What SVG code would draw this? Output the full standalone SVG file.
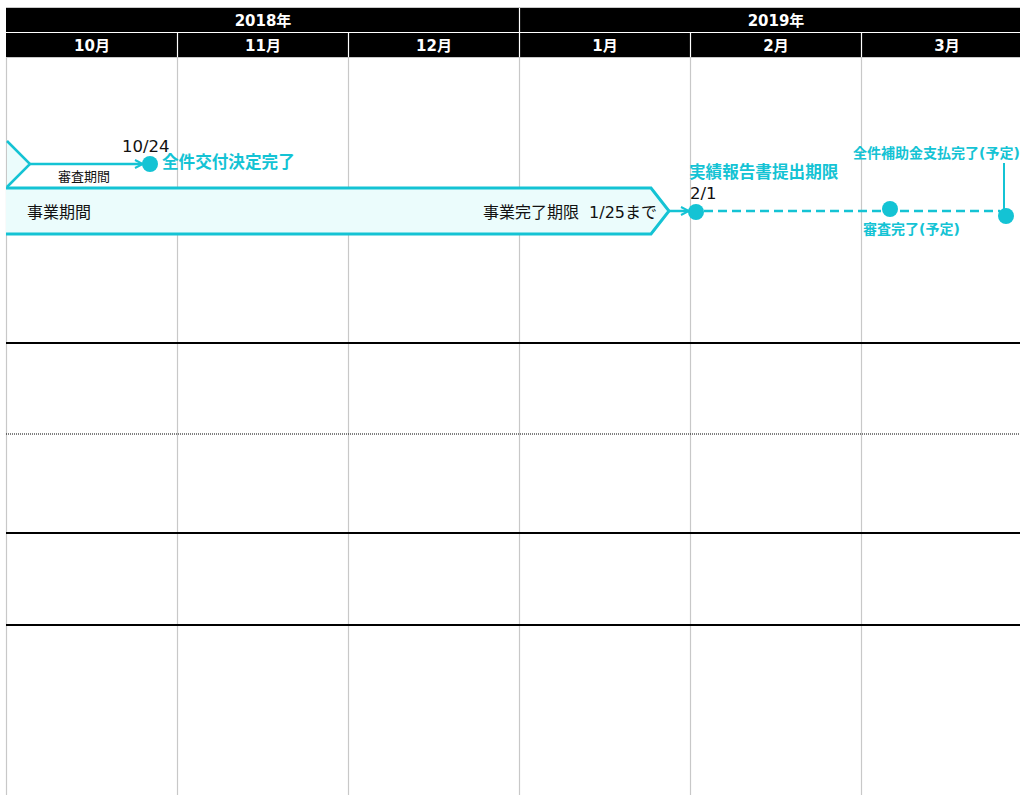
<svg xmlns="http://www.w3.org/2000/svg" width="1020" height="795" viewBox="0 0 1020 795">
<style>
.hdr{fill:#000}
.htxt{font-family:"DejaVu Sans","Noto Sans CJK JP",sans-serif;font-size:15px;font-weight:bold;fill:#fff;text-anchor:middle}
.vsep{stroke:#fff;stroke-width:1.2}
.grid{stroke:#c8c8c8;stroke-width:1.2}
.row{stroke:#000;stroke-width:2}
.cy{stroke:#14c3d4;fill:none}
.dot{fill:#14c3d4}
.t{font-family:"DejaVu Sans","Noto Sans CJK JP",sans-serif;fill:#111}
.tc{font-family:"DejaVu Sans","Noto Sans CJK JP",sans-serif;fill:#14c3d4;font-weight:bold}
</style>
<defs>
<marker id="arr" viewBox="0 0 10 10" refX="9" refY="5" markerWidth="10" markerHeight="10" markerUnits="userSpaceOnUse" orient="auto">
<path d="M1,1 L9,5 L1,9" fill="none" stroke="#14c3d4" stroke-width="2"/>
</marker>
</defs>
<rect width="1020" height="795" fill="#fff"/>
<g id="grid">
<line x1="6" y1="7.5" x2="1020" y2="7.5" stroke="#c8c8c8"/>
<rect class="hdr" x="6" y="8" width="1014" height="49"/>
<line class="vsep" x1="6" y1="32.5" x2="1020" y2="32.5"/>
<line class="vsep" x1="519.5" y1="8" x2="519.5" y2="57"/>
<line class="vsep" x1="177.5" y1="33" x2="177.5" y2="57"/>
<line class="vsep" x1="348.5" y1="33" x2="348.5" y2="57"/>
<line class="vsep" x1="690.5" y1="33" x2="690.5" y2="57"/>
<line class="vsep" x1="861.5" y1="33" x2="861.5" y2="57"/>
<line x1="6" y1="57.5" x2="1020" y2="57.5" stroke="#c8c8c8"/>
<text class="htxt" x="263" y="25.5">2018年</text>
<text class="htxt" x="776" y="25.5">2019年</text>
<text class="htxt" x="92" y="50.5">10月</text>
<text class="htxt" x="263" y="50.5">11月</text>
<text class="htxt" x="434" y="50.5">12月</text>
<text class="htxt" x="605" y="50.5">1月</text>
<text class="htxt" x="776" y="50.5">2月</text>
<text class="htxt" x="947" y="50.5">3月</text>
<line class="grid" x1="6.5" y1="58" x2="6.5" y2="795"/>
<line class="grid" x1="177.5" y1="58" x2="177.5" y2="795"/>
<line class="grid" x1="348.5" y1="58" x2="348.5" y2="795"/>
<line class="grid" x1="519.5" y1="58" x2="519.5" y2="795"/>
<line class="grid" x1="690.5" y1="58" x2="690.5" y2="795"/>
<line class="grid" x1="861.5" y1="58" x2="861.5" y2="795"/>
<line class="row" x1="6" y1="343" x2="1020" y2="343"/>
<line x1="6" y1="434" x2="1020" y2="434" stroke="#000" stroke-width="1" stroke-dasharray="1 1"/>
<line class="row" x1="6" y1="533" x2="1020" y2="533"/>
<line class="row" x1="6" y1="625" x2="1020" y2="625"/>
</g>
<g id="review-period">
<path d="M7,141 L30,164 L7,187 Z" fill="#ebfcfc"/>
<path class="cy" d="M7,141 L30,164 L7,187" stroke-width="2.5"/>
<text class="t" x="58" y="181" font-size="13">審査期間</text>
</g>
<g id="business-period">
<path d="M6,188 L651,188 L669,211 L651,234 L6,234 Z" fill="#ebfcfc"/>
<path class="cy" d="M6,188 L651,188 L669,211 L651,234 L6,234" stroke-width="3"/>
<text class="t" x="27" y="218" font-size="16">事業期間</text>
<text class="t" x="657" y="218" font-size="16" text-anchor="end" xml:space="preserve">事業完了期限  1/25まで</text>
</g>
<g id="connectors">
<line class="cy" x1="30" y1="164" x2="143" y2="164" stroke-width="2.5" marker-end="url(#arr)"/>
<line class="cy" x1="669" y1="211" x2="689" y2="211" stroke-width="2.5" marker-end="url(#arr)"/>
<line class="cy" x1="704" y1="211" x2="1000" y2="211" stroke-width="2.5" stroke-dasharray="9 5"/>
<line class="cy" x1="1004" y1="163" x2="1004" y2="210" stroke-width="2"/>
</g>
<g id="m-1024">
<circle class="dot" cx="150" cy="164" r="8"/>
<text class="t" x="122" y="152" font-size="16.5">10/24</text>
<text class="tc" x="162" y="168" font-size="16.6">全件交付決定完了</text>
</g>
<g id="m-0201">
<circle class="dot" cx="696" cy="212" r="8"/>
<text class="tc" x="689" y="178" font-size="16.6">実績報告書提出期限</text>
<text class="t" x="690" y="199" font-size="16.5">2/1</text>
</g>
<g id="m-review">
<circle class="dot" cx="890" cy="209" r="8"/>
<text class="tc" x="863" y="234" font-size="14">審査完了(予定)</text>
</g>
<g id="m-pay">
<circle class="dot" cx="1006" cy="216" r="8"/>
<text class="tc" x="853" y="158" font-size="14">全件補助金支払完了(予定)</text>
</g>
</svg>
